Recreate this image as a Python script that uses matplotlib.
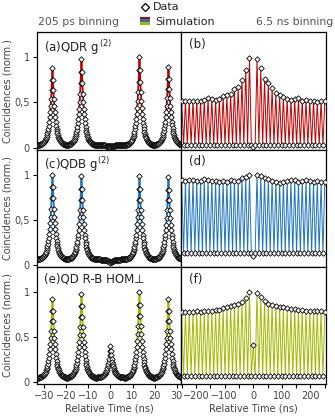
import numpy as np
import matplotlib.pyplot as plt
from matplotlib.patches import Rectangle
from matplotlib.lines import Line2D
from matplotlib.ticker import MultipleLocator

plt.rcParams['font.family'] = 'DejaVu Sans'

red = '#c00000'
blue = '#1f74bb'
green = '#a3b900'
grey_txt = '#444444'

# ---- left column: 205 ps binning ----
bin_fine = 0.205
period = 13.16
# one-sided peak shape, sampled every 205 ps (read from the flanks)
peak_profile = [1.0, 0.85, 0.72, 0.60, 0.505, 0.425, 0.36, 0.30, 0.255, 0.215,
                0.18, 0.153, 0.129, 0.108, 0.091, 0.077, 0.065, 0.055, 0.046,
                0.039, 0.033, 0.028, 0.023, 0.020, 0.016, 0.014, 0.012, 0.010,
                0.008, 0.007]
peak_index = [-2, -1, 0, 1, 2]
tops_a = [0.88, 0.98, 0.01, 1.0, 0.89]
tops_c = [1.0, 0.98, 0.02, 0.98, 0.97]
tops_e = [0.92, 0.98, 0.40, 1.0, 0.92]
base_a, base_c, base_e = 0.025, 0.06, 0.05

# ---- right column: 6.5 ns binning, peak bins at k*period (k = 1..19) ----
env_b_left = [0.99, 0.86, 0.75, 0.67, 0.65, 0.59, 0.58, 0.57, 0.54, 0.53,
              0.54, 0.55, 0.53, 0.52, 0.52, 0.52, 0.52, 0.52, 0.52]
env_b_right = [0.98, 0.88, 0.76, 0.71, 0.66, 0.60, 0.58, 0.56, 0.54, 0.53,
               0.54, 0.55, 0.52, 0.53, 0.52, 0.52, 0.50, 0.52, 0.51]
env_d_left = [0.99, 0.97, 0.96, 0.93, 0.93, 0.94, 0.92, 0.93, 0.92, 0.93,
              0.93, 0.94, 0.95, 0.93, 0.93, 0.94, 0.94, 0.93, 0.94]
env_d_right = [1.0, 0.98, 0.96, 0.95, 0.93, 0.92, 0.91, 0.92, 0.93, 0.94,
               0.94, 0.92, 0.93, 0.94, 0.93, 0.92, 0.93, 0.92, 0.92]
env_f_left = [1.0, 0.93, 0.89, 0.87, 0.85, 0.84, 0.83, 0.82, 0.80, 0.80,
              0.79, 0.79, 0.79, 0.78, 0.79, 0.78, 0.78, 0.78, 0.78]
env_f_right = [0.99, 0.94, 0.90, 0.87, 0.86, 0.84, 0.83, 0.83, 0.82, 0.81,
               0.81, 0.80, 0.80, 0.79, 0.79, 0.79, 0.79, 0.79, 0.78]
low_b, low_d, low_f = 0.03, 0.13, 0.07
centre_b, centre_d, centre_f = 0.01, 0.10, 0.41

t_fine = np.arange(-33.2, 32.2, bin_fine)


def fine_hist(tops, base):
    prof = np.array(peak_profile)
    y = np.full(t_fine.shape, base)
    for k, top in zip(peak_index, tops):
        idx = np.rint(np.abs(t_fine - k * period) / bin_fine).astype(int)
        m = idx < len(prof)
        y[m] += (top - base) * prof[idx[m]]
    return y


def coarse_hist(left, right, low, centre):
    n = len(left)
    t = np.arange(-2 * n, 2 * n + 1) * period / 2
    y = np.full(t.shape, low)
    y[2 * n] = centre
    for i, v in enumerate(right):
        y[2 * n + 2 * (i + 1)] = v
    for i, v in enumerate(left):
        y[2 * n - 2 * (i + 1)] = v
    return t, y


fig = plt.figure(figsize=(3.35, 4.18), dpi=100)
gs = fig.add_gridspec(3, 2, left=0.110, right=0.973, top=0.923, bottom=0.081,
                      wspace=0, hspace=0)

rows = [
    ('(a)QDR g$^{\\,(2)}$', tops_a, base_a, '(b)', env_b_left, env_b_right, low_b, centre_b, red),
    ('(c)QDB g$^{(2)}$', tops_c, base_c, '(d)', env_d_left, env_d_right, low_d, centre_d, blue),
    ('(e)QD R-B HOM\u22a5', tops_e, base_e, '(f)', env_f_left, env_f_right, low_f, centre_f, green),
]

mk = dict(ls='none', marker='D', ms=2.8, mfc='white', mec='black', mew=0.6)

for r, (lab_l, tops, base, lab_r, envl, envr, low, centre, col) in enumerate(rows):
    axl = fig.add_subplot(gs[r, 0])
    axr = fig.add_subplot(gs[r, 1])

    y_fine = fine_hist(tops, base)
    axl.plot(t_fine, y_fine, color=col, lw=1.3, zorder=2)
    axl.plot(t_fine, y_fine, zorder=3, **mk)

    tc, yc = coarse_hist(envl, envr, low, centre)
    axr.plot(tc, yc, color=col, lw=0.7, zorder=2)
    axr.plot(tc, yc, zorder=3, **mk)

    for ax in (axl, axr):
        ax.set_ylim(-0.022, 1.278)
        for s in ax.spines.values():
            s.set_linewidth(0.9)
        ax.tick_params(direction='out', length=3, width=0.8, colors='black',
                       labelcolor=grey_txt, labelsize=7, pad=2)
    axl.set_xlim(-33.3, 32.1)
    axr.set_xlim(-251, 254)
    axl.set_yticks([0, 0.5, 1])
    axl.set_yticklabels(['0', '0,5', '1'])
    axr.set_yticks([])
    axl.set_ylabel('Coincidences (norm.)', fontsize=7, color=grey_txt)
    axl.yaxis.set_label_coords(-0.165, 0.5)
    axl.xaxis.set_major_locator(MultipleLocator(10))
    axr.xaxis.set_major_locator(MultipleLocator(100))
    axr.xaxis.set_minor_locator(MultipleLocator(50))
    axr.tick_params(which='minor', direction='out', length=3, width=0.8)
    axl.text(0.05, 0.95, lab_l, transform=axl.transAxes, fontsize=8.5,
             va='top', ha='left', color='#222222')
    axr.text(0.05, 0.95, lab_r, transform=axr.transAxes, fontsize=8.5,
             va='top', ha='left', color='#222222')
    if r < 2:
        for ax in (axl, axr):
            ax.tick_params(which='both', bottom=False, labelbottom=False)
    else:
        axl.set_xticks([-30, -20, -10, 0, 10, 20, 30])
        axl.set_xticklabels(['\u221230', '\u221220', '\u221210', '0', '10', '20', '30'])
        axr.set_xticks([-200, -100, 0, 100, 200])
        axr.set_xticklabels(['\u2212200', '\u2212100', '0', '100', '200'])
        axl.set_xlabel('Relative Time (ns)', fontsize=7, color=grey_txt, labelpad=2)
        axr.set_xlabel('Relative Time (ns)', fontsize=7, color=grey_txt, labelpad=2)

# header texts and legend
fig.text(0.233, 0.947, '205 ps binning', fontsize=7.8, color='#555555',
         ha='center', va='center')
fig.text(0.995, 0.947, '6.5 ns binning', fontsize=7.8, color='#555555',
         ha='right', va='center')
fig.add_artist(Line2D([0.433], [0.983], transform=fig.transFigure, marker='D',
                      ms=4, mfc='white', mec='black', mew=0.9))
fig.text(0.456, 0.983, 'Data', fontsize=8, color='#222222', ha='left', va='center')
stripe_cols = [red, blue, green]
for i, c in enumerate(stripe_cols):
    fig.add_artist(Rectangle((0.418, 0.954 - i * 0.0065), 0.030, 0.0060,
                             transform=fig.transFigure, color=c, lw=0))
fig.text(0.463, 0.947, 'Simulation', fontsize=8, color='#222222', ha='left', va='center')

plt.savefig('out.png', dpi=100)
